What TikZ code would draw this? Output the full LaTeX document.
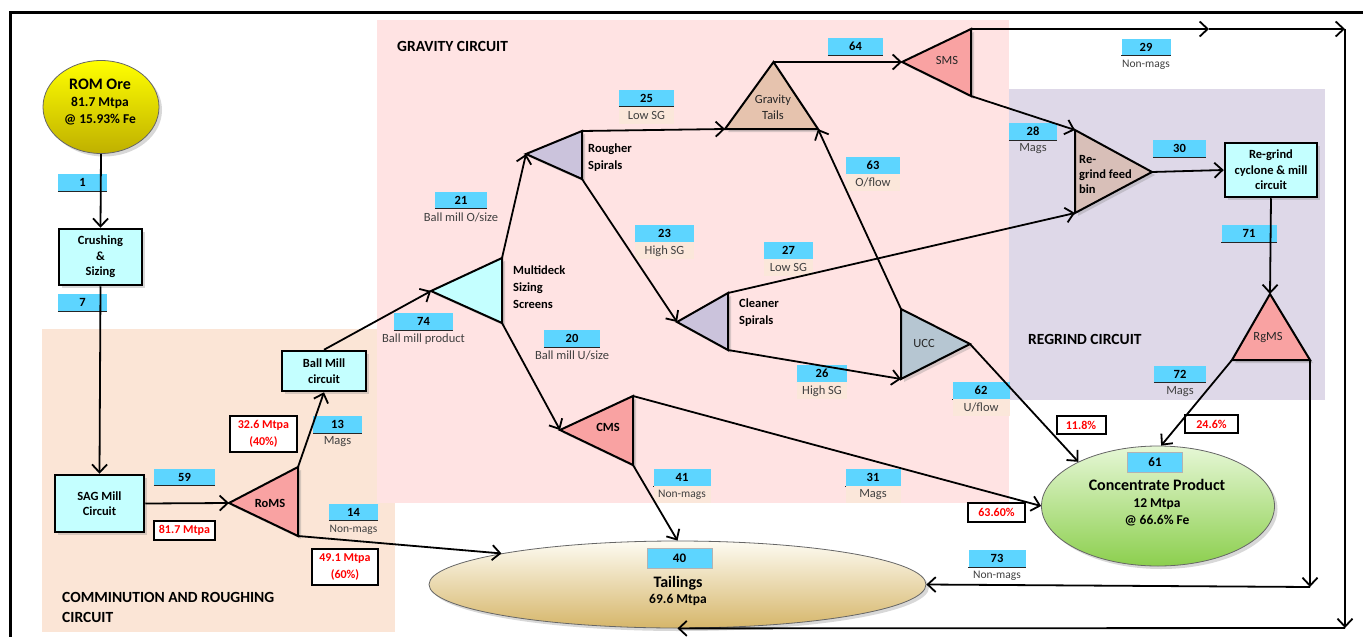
\documentclass[tikz,border=0pt]{standalone}
\usepackage{fontspec}
\setmainfont{Carlito}
\usetikzlibrary{arrows.meta,shadows,shapes.geometric}
\definecolor{peachbg}{HTML}{FBE5D6}
\definecolor{pinkbg}{HTML}{FFE3E3}
\definecolor{lavbg}{HTML}{DED8E8}
\definecolor{labcyan}{HTML}{5DD5FF}
\definecolor{boxcyan}{HTML}{C4FFFF}
\definecolor{salmon}{HTML}{F9A2A2}
\definecolor{spiral}{HTML}{CBC3DC}
\definecolor{uccblue}{HTML}{B6C6D2}
\definecolor{gtan}{HTML}{E6C3AE}
\definecolor{bintan}{HTML}{D8BFB8}
\definecolor{subpeach}{HTML}{FBE7DA}
\definecolor{subgray}{HTML}{404040}
\definecolor{romtop}{HTML}{FFFF00}
\definecolor{rombot}{HTML}{BFB000}
\definecolor{tailtop}{HTML}{FDFBF2}
\definecolor{tailbot}{HTML}{D6B66A}
\definecolor{conctop}{HTML}{E6F7D6}
\definecolor{concbot}{HTML}{8CCF4E}
\begin{document}
\begin{tikzpicture}[x=1pt,y=-1pt,
  shd/.style={drop shadow={opacity=0.3,shadow xshift=3pt,shadow yshift=-3pt}},
  flow/.style={line width=1.8pt,-{Straight Barb[length=8pt,width=15pt]}},
  trip/.style={draw,line width=2pt,line join=miter,shd},
  pbox/.style={draw,line width=2.5pt,fill=boxcyan,align=center,inner sep=0pt,font=\bfseries\fontsize{12.5}{15.5}\selectfont,shd},
  ttext/.style={font=\bfseries\fontsize{12.5}{17}\selectfont,align=left,inner sep=0pt},
  ctext/.style={font=\fontsize{12.5}{16}\selectfont,text=black!85,align=center,inner sep=0pt},
  ulin/.style={draw=black!85,line width=1.3pt,-},
  lab/.style={fill=labcyan,inner sep=0pt,minimum height=17pt,minimum width=#1,font=\bfseries\fontsize{12.5}{14}\selectfont,
     append after command={(\tikzlastnode.south west) edge[ulin] (\tikzlastnode.south east)}},
  lab/.default=52pt,
  biglab/.style={fill=labcyan,draw=black!30,line width=.8pt,inner sep=0pt,minimum height=20pt,minimum width=#1,font=\bfseries\fontsize{13}{14}\selectfont},
  sublbl/.style={anchor=north,inner sep=0pt,minimum height=17pt,font=\fontsize{12.5}{14}\selectfont,text=subgray},
  subbg/.style={sublbl,fill=subpeach,minimum width=#1},
  redbox/.style={draw,line width=2pt,fill=white,text=red,font=\bfseries\fontsize{12}{17}\selectfont,align=center,inner sep=0pt},
  sect/.style={font=\bfseries\fontsize{15.5}{20}\selectfont,align=left,inner sep=0pt,anchor=west},
]
\useasboundingbox (0,0) rectangle (1363,637);
\fill[white] (0,0) rectangle (1363,637);
% regions
\fill[peachbg] (42,329) rectangle (395,632);
\fill[pinkbg] (377,20) rectangle (1009,503);
\fill[lavbg] (1009,89) rectangle (1325,400);
% frame
\draw[line width=3pt] (10,637) -- (10,12) -- (1363,12);
% section titles
\node[sect] (tgrav) at (397,46) {GRAVITY CIRCUIT};
\node[sect] (tcomm) at (62,607) {COMMINUTION AND ROUGHING\\CIRCUIT};
\node[sect] (tregr) at (1028,339) {REGRIND CIRCUIT};

% ellipses
\node[ellipse,draw=black!60,line width=.8pt,top color=romtop,bottom color=rombot,minimum width=116pt,minimum height=93pt,inner sep=0pt,shd] (rom) at (101,107) {};
\node[ellipse,draw=black!60,line width=.8pt,top color=tailtop,bottom color=tailbot,minimum width=497pt,minimum height=87pt,inner sep=0pt,shd] (tail) at (677.5,584.5) {};
\node[ellipse,draw=black!60,line width=.8pt,top color=conctop,bottom color=concbot,minimum width=233pt,minimum height=120pt,inner sep=0pt,shd] (conc) at (1158,506) {};

% boxes
\node[pbox,minimum width=83pt,minimum height=56pt] (crush) at (100.5,257) {Crushing\\\&\\Sizing};
\node[pbox,minimum width=89pt,minimum height=57pt] (sag) at (99.5,503.5) {SAG Mill\\Circuit};
\node[pbox,minimum width=84pt,minimum height=40pt] (bm) at (324,371) {Ball Mill\\circuit};
\node[pbox,minimum width=92pt,minimum height=54pt] (rcm) at (1271,170) {Re-grind\\cyclone \& mill\\circuit};

% triangle vertices
\coordinate (roms-l) at (229,503); \coordinate (roms-t) at (298,467); \coordinate (roms-b) at (298,536);
\coordinate (msc-l) at (431,291); \coordinate (msc-t) at (502,258); \coordinate (msc-b) at (502,323);
\coordinate (rs-l) at (526,154); \coordinate (rs-t) at (582,131); \coordinate (rs-b) at (582,179);
\coordinate (cms-l) at (560,430); \coordinate (cms-t) at (633,396); \coordinate (cms-b) at (633,465);
\coordinate (gt-t) at (773.5,62); \coordinate (gt-l) at (725,129); \coordinate (gt-r) at (818,129);
\coordinate (sms-l) at (902,62); \coordinate (sms-t) at (971,29); \coordinate (sms-b) at (971,96);
\coordinate (cs-l) at (677,322); \coordinate (cs-t) at (728,293); \coordinate (cs-b) at (728,350);
\coordinate (ucc-t) at (901,309); \coordinate (ucc-b) at (901,379); \coordinate (ucc-r) at (970,344);
\coordinate (rfb-t) at (1075,130); \coordinate (rfb-b) at (1075,213); \coordinate (rfb-r) at (1152,172);
\coordinate (rg-t) at (1270,294); \coordinate (rg-l) at (1232,360); \coordinate (rg-r) at (1310,360);
% path corners
\coordinate (m29) at (1209,29);
\coordinate (c1) at (1345,29);
\coordinate (c2) at (1345,628);
\coordinate (c4) at (1310,587);

% triangles
\draw[trip,fill=salmon] (roms-l) -- (roms-t) -- (roms-b) -- cycle;
\draw[trip,fill=boxcyan] (msc-l) -- (msc-t) -- (msc-b) -- cycle;
\draw[trip,fill=spiral] (rs-l) -- (rs-t) -- (rs-b) -- cycle;
\draw[trip,fill=salmon] (cms-l) -- (cms-t) -- (cms-b) -- cycle;
\draw[trip,fill=gtan] (gt-t) -- (gt-l) -- (gt-r) -- cycle;
\draw[trip,fill=salmon] (sms-l) -- (sms-t) -- (sms-b) -- cycle;
\draw[trip,fill=spiral] (cs-l) -- (cs-t) -- (cs-b) -- cycle;
\draw[trip,fill=uccblue] (ucc-t) -- (ucc-b) -- (ucc-r) -- cycle;
\draw[trip,fill=bintan] (rfb-t) -- (rfb-b) -- (rfb-r) -- cycle;
\draw[trip,fill=salmon] (rg-t) -- (rg-l) -- (rg-r) -- cycle;

% texts of shapes
\node[align=center,inner sep=0pt,font=\bfseries\fontsize{13.5}{17}\selectfont] (romtxt) at (100,102) {{\fontsize{16}{18}\selectfont ROM Ore}\\81.7 Mtpa\\@ 15.93\% Fe};
\node[ttext] (romstxt) at (270,503) {RoMS};
\node[ttext,anchor=west] (msctxt) at (513,287) {Multideck\\Sizing\\Screens};
\node[ttext,anchor=west] (rstxt) at (588,158) {Rougher\\Spirals};
\node[ttext] (cmstxt) at (608,427) {CMS};
\node[ctext] (gttxt) at (773,107) {Gravity\\Tails};
\node[ctext] (smstxt) at (947,60) {SMS};
\node[ttext,anchor=west] (cstxt) at (739,313) {Cleaner\\Spirals};
\node[ctext] (ucctxt) at (924,343) {UCC};
\node[ttext,anchor=west,font=\bfseries\fontsize{12.5}{15}\selectfont] (rfbtxt) at (1079,174) {Re-\\grind feed\\bin};
\node[ctext] (rgtxt) at (1268,338) {RgMS};
\node[align=center,inner sep=0pt,font=\bfseries\fontsize{16}{18}\selectfont] (tailtxt) at (678,591) {Tailings\\[-2pt]{\fontsize{13.5}{16}\selectfont 69.6 Mtpa}};
\node[align=center,inner sep=0pt,font=\bfseries\fontsize{13.5}{17}\selectfont] (conctxt) at (1157,503) {{\fontsize{16}{18}\selectfont Concentrate Product}\\12 Mtpa\\@ 66.6\% Fe};

% stream labels
\node[lab=49pt] (l1) at (82.5,182.5) {1};
\node[lab=49pt] (l7) at (82.5,302.5) {7};
\node[lab=61pt] (l59) at (184.5,477) {59};
\node[lab=49pt] (l13) at (337.5,424.5) {13};
\node[sublbl] (s13) at (l13.south) {Mags};
\node[lab=49pt] (l14) at (353.5,512) {14};
\node[sublbl,font=\fontsize{11.5}{14}\selectfont] (s14) at (l14.south) {Non-mags};
\node[lab=59pt] (l74) at (423.5,321.5) {74};
\node[sublbl] (s74) at (l74.south) {Ball mill product};
\node[lab=52pt] (l21) at (461,200) {21};
\node[sublbl] (s21) at (l21.south) {Ball mill O/size};
\node[lab=56pt] (l20) at (572,338.5) {20};
\node[sublbl] (s20) at (l20.south) {Ball mill U/size};
\node[lab=55pt] (l25) at (646.5,98) {25};
\node[subbg=55pt] (s25) at (l25.south) {Low SG};
\node[lab=59pt] (l23) at (664.5,233.5) {23};
\node[subbg=59pt] (s23) at (l23.south) {High SG};
\node[lab=55pt] (l64) at (855.5,46.5) {64};
\node[lab=54pt] (l63) at (873,165.5) {63};
\node[subbg=54pt] (s63) at (l63.south) {O/flow};
\node[lab=49pt] (l27) at (788.5,250.5) {27};
\node[subbg=49pt] (s27) at (l27.south) {Low SG};
\node[lab=50pt] (l26) at (822,373.5) {26};
\node[subbg=50pt] (s26) at (l26.south) {High SG};
\node[lab=57pt] (l62) at (981,390.5) {62};
\node[subbg=57pt] (s62) at (l62.south) {U/flow};
\node[lab=49pt] (l29) at (1146,47) {29};
\node[sublbl,font=\fontsize{11.5}{14}\selectfont] (s29) at (l29.south) {Non-mags};
\node[lab=48pt] (l28) at (1033,131.5) {28};
\node[sublbl] (s28) at (l28.south) {Mags};
\node[lab=53pt] (l30) at (1179.5,148.5) {30};
\node[lab=55pt] (l71) at (1249,233.5) {71};
\node[lab=52pt] (l72) at (1180,374) {72};
\node[sublbl] (s72) at (l72.south) {Mags};
\node[lab=55pt] (l31) at (873,477.5) {31};
\node[subbg=55pt] (s31) at (l31.south) {Mags};
\node[lab=57pt] (l73) at (997,558.5) {73};
\node[sublbl,font=\fontsize{11.5}{14}\selectfont] (s73) at (l73.south) {Non-mags};
\node[lab=57pt] (l41) at (682,477.5) {41};
\node[subbg=57pt,font=\fontsize{11.5}{14}\selectfont] (s41) at (l41.south) {Non-mags};
\node[biglab=65pt] (l40) at (679.5,558) {40};
\node[biglab=55pt] (l61) at (1155,462) {61};

% red boxes
\node[redbox,minimum width=61pt,minimum height=19pt] (r1) at (184.5,530.5) {81.7 Mtpa};
\node[redbox,minimum width=67pt,minimum height=36pt] (r2) at (263.5,434) {32.6 Mtpa\\(40\%)};
\node[redbox,minimum width=66pt,minimum height=36pt] (r3) at (345,567) {49.1 Mtpa\\(60\%)};
\node[redbox,minimum width=49pt,minimum height=18pt] (r4) at (1081,425) {11.8\%};
\node[redbox,minimum width=53pt,minimum height=18pt] (r5) at (1211.5,424) {24.6\%};
\node[redbox,minimum width=57pt,minimum height=19pt] (r6) at (996.5,512.5) {63.60\%};

% connectors
\draw[flow] (rom.south) -- (crush.north);
\draw[flow] (crush.south) -- (sag.north);
\draw[flow] (sag.east) -- (roms-l);
\draw[flow] (roms-t) -- (bm.south);
\draw[flow] (roms-b) -- (tail.170);
\draw[flow] (bm.north) -- (msc-l);
\draw[flow] (msc-t) -- (rs-l);
\draw[flow] (msc-b) -- (cms-l);
\draw[flow] (rs-t) -- (gt-l);
\draw[flow] (rs-b) -- (cs-l);
\draw[flow] (gt-t) -- (sms-l);
\draw[flow] (sms-t) -- (m29);
\draw[flow] (m29) -- (c1);
\draw[flow] (c1) -- (c2);
\draw[flow] (c2) -- (tail.south);
\draw[flow] (sms-b) -- (rfb-t);
\draw[flow] (cs-t) -- (rfb-b);
\draw[flow] (cs-b) -- (ucc-b);
\draw[flow] (ucc-t) -- (gt-r);
\draw[flow] (ucc-r) -- (conc.151);
\draw[flow] (cms-t) -- (conc.west);
\draw[flow] (cms-b) -- (tail.north);
\draw[flow] (rfb-r) -- (rcm.west);
\draw[flow] (rcm.south) -- (rg-t);
\draw[flow] (rg-l) -- (conc.87);
\draw[flow] (rg-r) -- (c4);
\draw[flow] (c4) -- (tail.east);
\end{tikzpicture}
\end{document}
